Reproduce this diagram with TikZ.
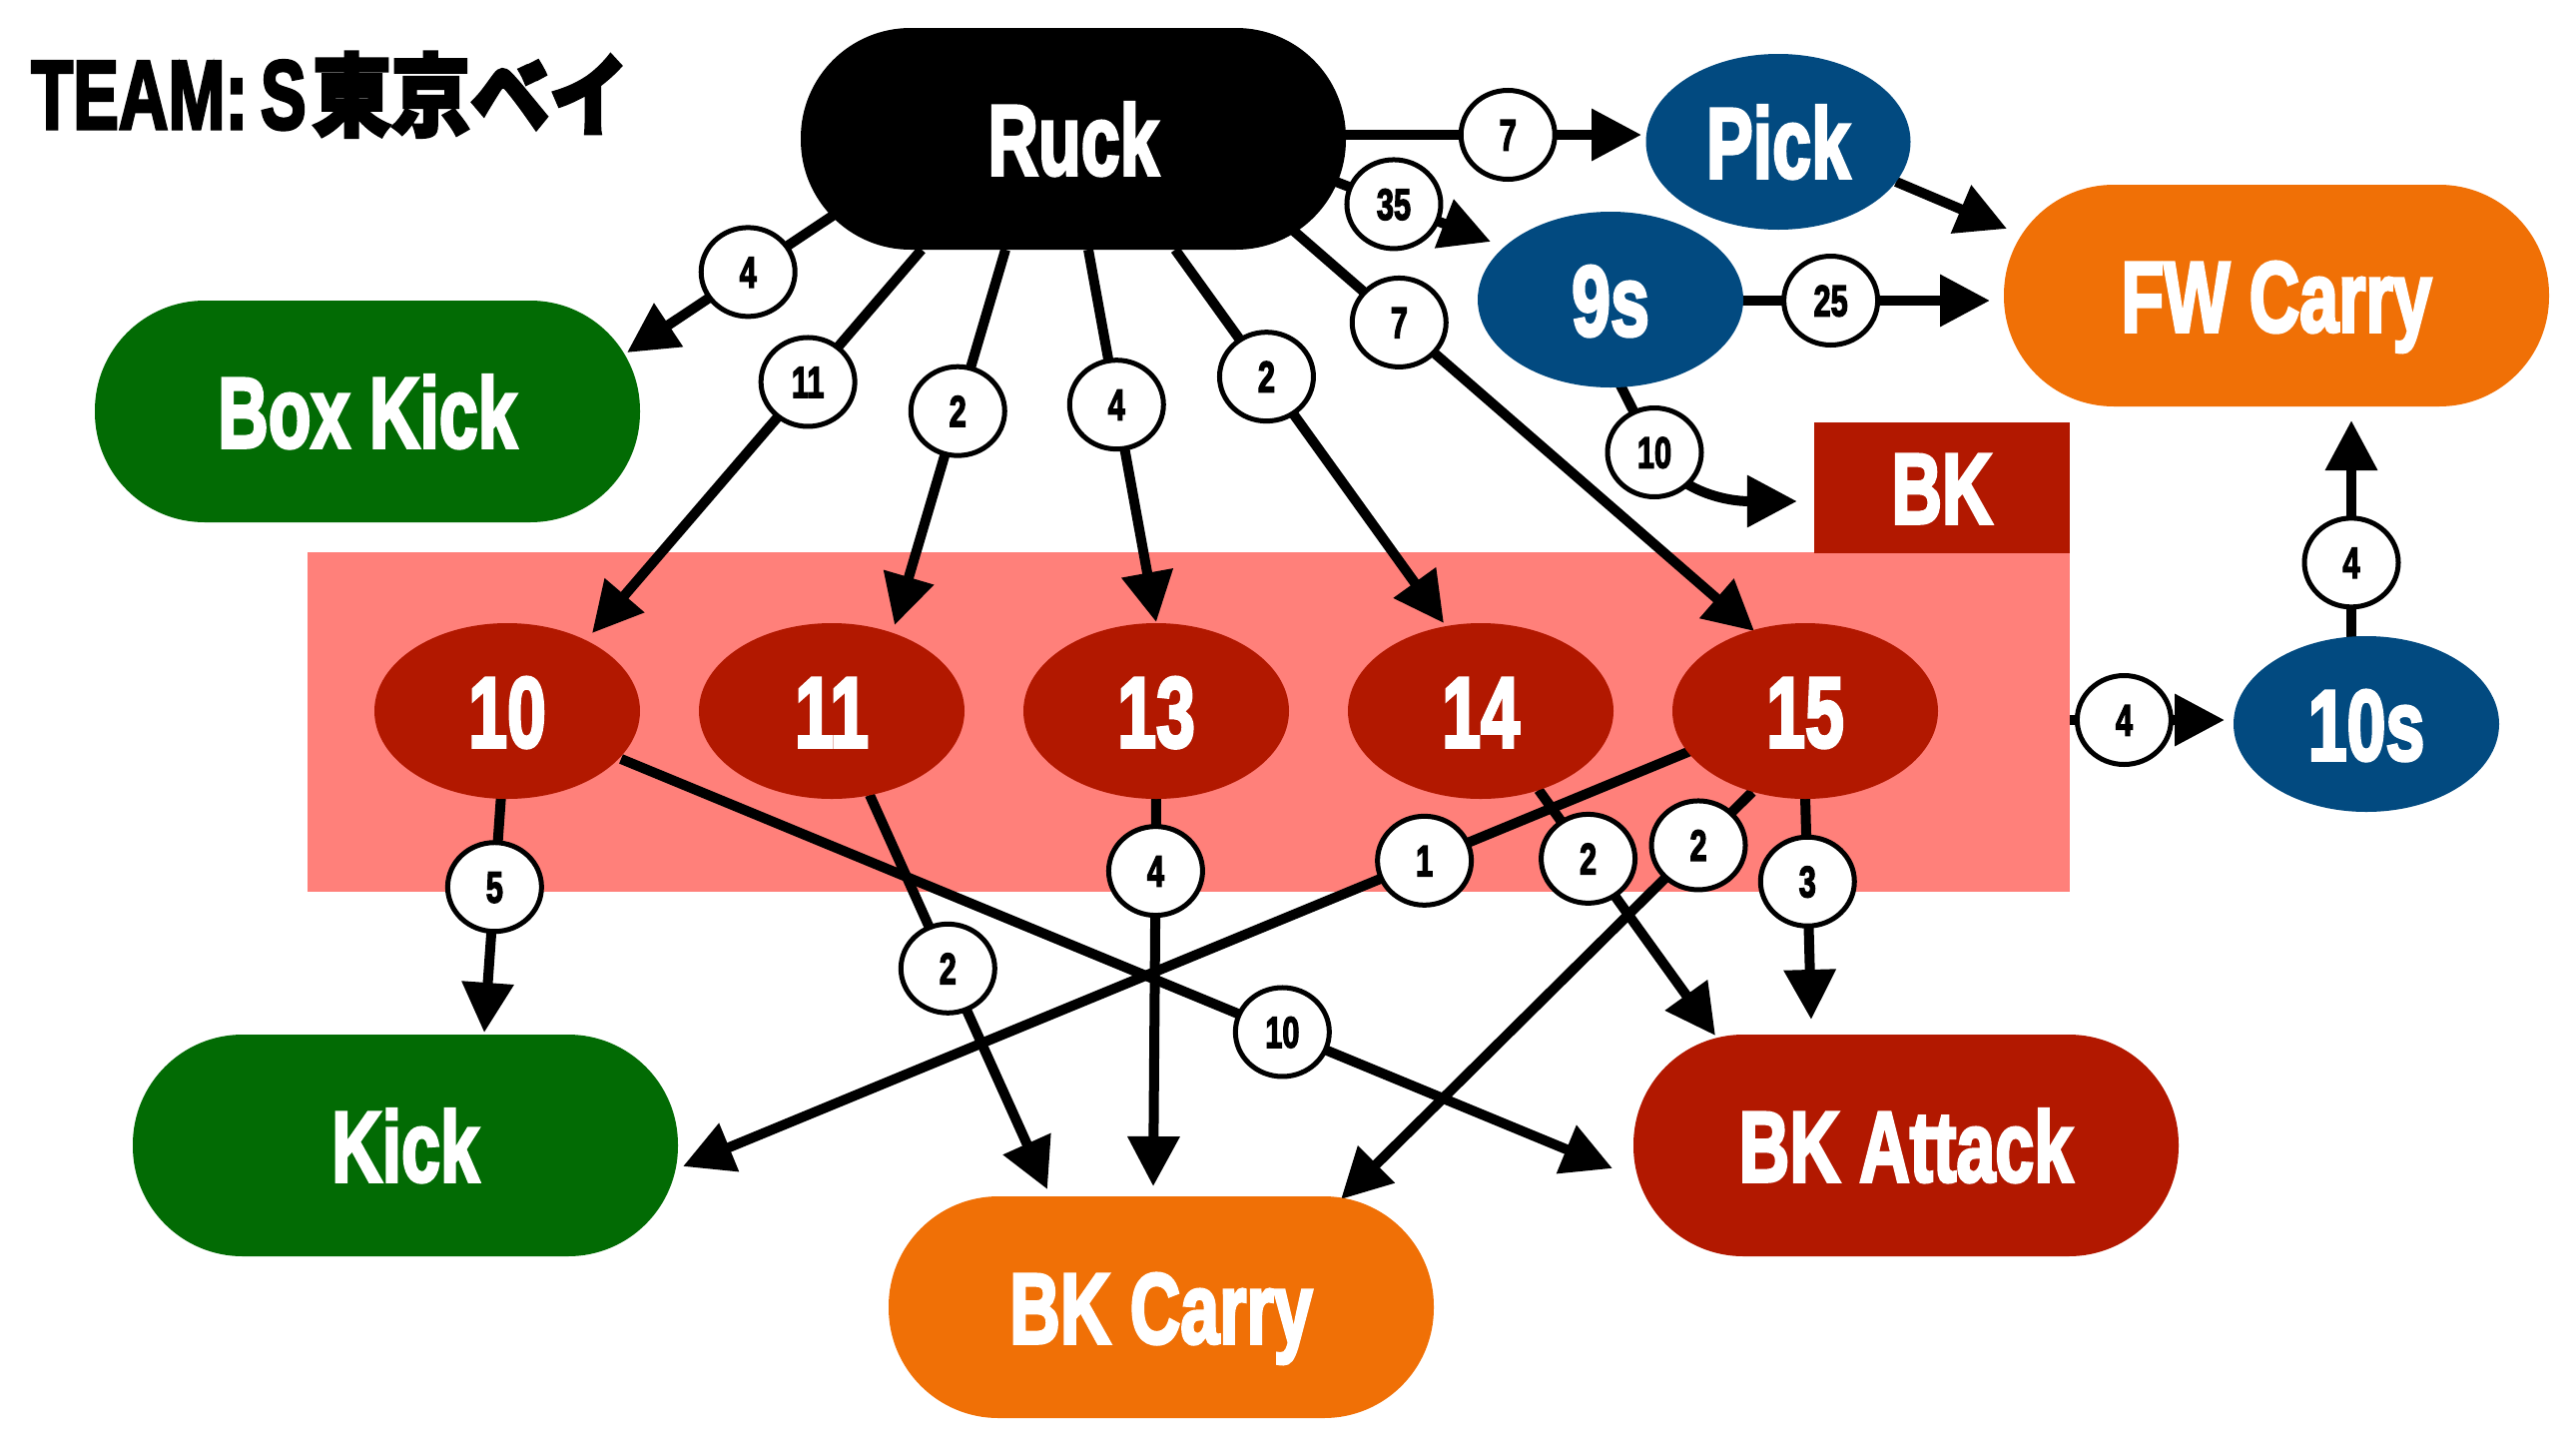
\documentclass[tikz,border=0pt]{standalone}
\usepackage{fontspec}
\usepackage{graphicx}
\usetikzlibrary{shapes.geometric,arrows.meta,calc}
\newfontfamily\impact{Liberation Sans}[BoldFeatures={FakeBold=3.5}]
\newfontfamily\cjkfont{Noto Sans CJK JP}[FakeBold=3.5]
\newcommand\hsq[1]{\scalebox{0.7}[1]{#1}}
\definecolor{kgreen}{RGB}{2,107,4}
\definecolor{nblue}{RGB}{2,74,128}
\definecolor{corange}{RGB}{240,112,6}
\definecolor{bred}{RGB}{178,24,0}
\definecolor{cpink}{RGB}{255,128,122}
\pgfdeclarelayer{back}
\pgfdeclarelayer{edges}
\pgfsetlayers{back,edges,main}
\begin{document}
\begin{tikzpicture}[x=1pt,y=-1pt,
  bigtext/.style={font=\impact\bfseries\fontsize{100}{110}\selectfont, text=white, text height=72pt, text depth=0pt},
  stad/.style={bigtext, rectangle, rounded corners=110pt, minimum width=546pt, minimum height=222pt, inner sep=0pt},
  ell/.style={bigtext, ellipse, minimum width=266pt, minimum height=176pt, inner sep=0pt},
  lbl/.style={ellipse, draw=black, line width=5pt, fill=white, minimum width=94pt, minimum height=89pt, inner sep=0pt,
              font=\impact\bfseries\fontsize{44}{48}\selectfont, text=black, text height=31pt, text depth=0pt},
  edge/.style={line width=10pt, -{Triangle[length=50pt,width=50pt]}},
]
\useasboundingbox (0,0) rectangle (2580,1451);

% title
\node[anchor=base west, inner sep=0pt] (title) at (31,129)
  {\impact\bfseries\fontsize{98}{100}\selectfont\hsq{TEAM:\kern18pt S}\kern6pt\cjkfont\fontsize{90}{100}\selectfont\scalebox{0.88}[1]{東京ベイ}};

% cluster
\begin{pgfonlayer}{back}
\node[fill=cpink, rectangle, inner sep=0pt, minimum width=1765pt, minimum height=340pt] (cluster) at (1190.5,723) {};
\end{pgfonlayer}

% nodes
\node[stad, fill=black] (ruck) at (1075,139) {\hsq{Ruck}};
\node[stad, fill=kgreen] (boxkick) at (368,412) {\hsq{Box Kick}};
\node[ell, fill=nblue, minimum width=265pt] (pick) at (1781,142) {\hsq{Pick}};
\node[ell, fill=nblue] (nines) at (1613,300) {\hsq{9s}};
\node[stad, fill=corange] (fwcarry) at (2280,296) {\hsq{FW Carry}};
\node[bigtext, rectangle, fill=bred, minimum width=256pt, minimum height=131pt, inner sep=0pt] (bk) at (1945,488) {\hsq{BK}};
\node[ell, fill=bred] (n10) at (508,712) {\hsq{10}};
\node[ell, fill=bred] (n11) at (833,712) {\hsq{11}};
\node[ell, fill=bred] (n13) at (1158,712) {\hsq{13}};
\node[ell, fill=bred] (n14) at (1483,712) {\hsq{14}};
\node[ell, fill=bred] (n15) at (1808,712) {\hsq{15}};
\node[ell, fill=nblue] (tens) at (2370,725) {\hsq{10s}};
\node[stad, fill=kgreen] (kick) at (406,1147) {\hsq{Kick}};
\node[stad, fill=corange] (bkcarry) at (1163,1309) {\hsq{BK Carry}};
\node[stad, fill=bred] (bkattack) at (1909,1147) {\hsq{BK Attack}};

\begin{pgfonlayer}{edges}
\draw[edge] ($(ruck)+(-238,75)$) -- node[lbl,pos=0.42]{\hsq{4}} ($(boxkick)+(260,-59)$);
\draw[edge] ($(ruck)+(-152,111)$) -- node[lbl,pos=0.345]{\hsq{11}} ($(n10)+(85,-78)$);
\draw[edge] ($(ruck)+(-68,111)$) -- node[lbl,pos=0.43]{\hsq{2}} ($(n11)+(63,-86)$);
\draw[edge] ($(ruck)+(15,111)$) -- node[lbl,pos=0.416]{\hsq{4}} ($(n13)+(0,-89)$);
\draw[edge] ($(ruck)+(102,111)$) -- node[lbl,pos=0.34]{\hsq{2}} ($(n14)+(-37,-88)$);
\draw[edge] ($(ruck)+(217,89)$) -- node[lbl,pos=0.235]{\hsq{7}} ($(n15)+(-51,-80)$);
\draw[edge] ($(ruck)+(265,-4)$) -- node[lbl,pos=0.56]{\hsq{7}} ($(pick)+(-137,-7)$);
\draw[edge] ($(ruck)+(263,43)$) -- node[lbl,pos=0.374]{\hsq{35}} ($(nines)+(-120,-58)$);
\draw[edge] ($(nines)+(127,1)$) -- node[lbl,pos=0.37]{\hsq{25}} ($(fwcarry)+(-287,5)$);
\draw[edge] ($(pick)+(118,40)$) -- ($(fwcarry)+(-270,-67)$);
\draw[edge] ($(nines)+(7,80)$) -- ++(37,73) node[lbl]{\hsq{10}}
   .. controls +(25,40) and +(-70,0) .. ($(bk.west)+(-17,14)$);
\draw[edge] ($(cluster.east)+(0,-2)$) -- node[lbl,pos=0.35]{\hsq{4}} ($(tens)+(-142,-4)$);
\draw[edge] ($(tens)+(-15,-85)$) -- node[lbl,pos=0.35]{\hsq{4}} ($(fwcarry)+(75,125)$);
\draw[edge] ($(n10)+(-6,83)$) -- node[lbl,pos=0.39]{\hsq{5}} ($(kick)+(79,-113)$);
\draw[edge] ($(n10)+(114,48)$) -- node[lbl,pos=0.667]{\hsq{10}} ($(bkattack)+(-294,23)$);
\draw[edge] ($(n11)+(38,84)$) -- node[lbl,pos=0.44]{\hsq{2}} ($(bkcarry)+(-114,-118)$);
\draw[edge] ($(n13)+(0,86)$) -- node[lbl,pos=0.19]{\hsq{4}} ($(bkcarry)+(-8,-121)$);
\draw[edge] ($(n15)+(-115,40)$) -- node[lbl,pos=0.264]{\hsq{1}} ($(kick)+(278,21)$);
\draw[edge] ($(n14)+(58,79)$) -- node[lbl,pos=0.28]{\hsq{2}} ($(bkattack)+(-191,-110)$);
\draw[edge] ($(n15)+(-53,81)$) -- node[lbl,pos=0.131]{\hsq{2}} ($(bkcarry)+(180,-108)$);
\draw[edge] ($(n15)+(0,86)$) -- node[lbl,pos=0.38]{\hsq{3}} ($(bkattack)+(-95,-126)$);
\end{pgfonlayer}
\end{tikzpicture}
\end{document}
